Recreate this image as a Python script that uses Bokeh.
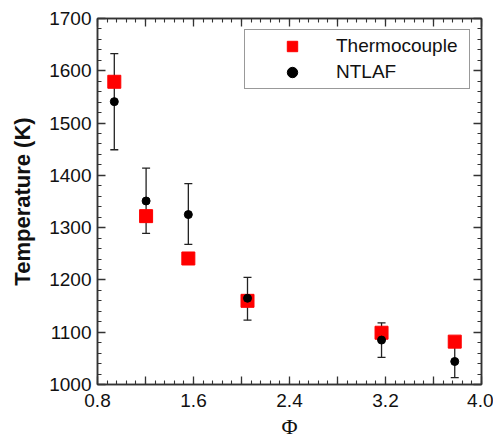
from bokeh.plotting import figure
from bokeh.models import (LinearAxis, FixedTicker, Whisker, TeeHead, ColumnDataSource,
                          Legend, LegendItem, Range1d)
from bokeh.embed import file_html
from bokeh.resources import INLINE

# ---- data ----
phi = [0.94, 1.205, 1.557, 2.05, 3.167, 3.777]
thermocouple = [1579, 1322, 1241, 1160, 1099, 1082]
ntlaf = [1541, 1351, 1325, 1165, 1085, 1044]
ntlaf_upper = [1633, 1414, 1384, 1205, 1118, 1074]
ntlaf_lower = [1449, 1289, 1268, 1123, 1052, 1013]

x_ticks = [0.8, 1.2, 1.6, 2.0, 2.4, 2.8, 3.2, 3.6, 4.0]
x_tick_labels = ["0.8", " ", "1.6", " ", "2.4", " ", "3.2", " ", "4.0"]
y_ticks = [1000, 1100, 1200, 1300, 1400, 1500, 1600, 1700]
x_title = "\u03a6"
y_title = "Temperature (K)"

x_minor = [round(0.8 + 0.08 * i, 2) for i in range(41)]
y_minor = [1000 + 20 * i for i in range(36)]

src = ColumnDataSource(dict(phi=phi, tc=thermocouple, nt=ntlaf, up=ntlaf_upper, lo=ntlaf_lower))

p = figure(width=493, height=441, x_range=Range1d(0.8, 4.0), y_range=Range1d(1000, 1700),
           output_backend="svg", toolbar_location=None,
           x_axis_label=x_title, y_axis_label=y_title)
p.min_border_left = 97
p.min_border_right = 12
p.min_border_top = 18
p.min_border_bottom = 55
p.xgrid.visible = False
p.ygrid.visible = False
p.outline_line_color = "#333333"
p.outline_line_width = 1.5

xt = FixedTicker(ticks=x_ticks, minor_ticks=x_minor)
yt = FixedTicker(ticks=y_ticks, minor_ticks=y_minor)

def style(ax):
    ax.axis_line_color = "#333333"
    ax.axis_line_width = 1.5
    ax.major_tick_line_color = "#333333"
    ax.minor_tick_line_color = "#333333"
    ax.major_tick_line_width = 1.3
    ax.minor_tick_line_width = 1.1
    ax.major_tick_in = 8
    ax.major_tick_out = 0
    ax.minor_tick_in = 4
    ax.minor_tick_out = 0
    ax.major_label_text_font = "Liberation Sans"
    ax.major_label_text_font_size = "19px"
    ax.major_label_text_color = "#111111"

xa = p.xaxis[0]
xa.ticker = xt
style(xa)
xa.major_label_overrides = dict(zip(x_ticks, x_tick_labels))
xa.major_label_standoff = 5
xa.axis_label_text_font = "Liberation Serif"
xa.axis_label_text_font_style = "normal"
xa.axis_label_text_font_size = "22px"
xa.axis_label_text_color = "#111111"
xa.axis_label_standoff = 0

ya = p.yaxis[0]
ya.ticker = yt
style(ya)
ya.major_label_standoff = 6
ya.axis_label_text_font = "Liberation Sans"
ya.axis_label_text_font_style = "bold"
ya.axis_label_text_font_size = "22px"
ya.axis_label_text_color = "#111111"
ya.axis_label_standoff = 11

top = LinearAxis(ticker=xt)
style(top)
top.major_label_text_font_size = "1px"
top.major_label_text_color = None
top.major_label_standoff = 0
p.add_layout(top, "above")

right = LinearAxis(ticker=yt)
style(right)
right.major_label_text_font_size = "1px"
right.major_label_text_color = None
right.major_label_standoff = 0
p.add_layout(right, "right")

whisk = Whisker(source=src, base="phi", upper="up", lower="lo", dimension="height",
                line_color="#222222", line_width=1.3,
                upper_head=TeeHead(size=8, line_color="#222222", line_width=1.3),
                lower_head=TeeHead(size=8, line_color="#222222", line_width=1.3))
p.add_layout(whisk)

r1 = p.scatter("phi", "tc", source=src, marker="square", size=13,
               fill_color="#ff0000", line_color="#ff0000")
r2 = p.scatter("phi", "nt", source=src, marker="circle", size=8,
               fill_color="#000000", line_color="#000000")

legend = Legend(items=[LegendItem(label="Thermocouple", renderers=[r1]),
                       LegendItem(label="NTLAF", renderers=[r2])],
                location="top_right", margin=11, padding=3, spacing=0,
                glyph_height=26, glyph_width=88, label_standoff=0, label_width=130,
                label_text_font="Liberation Sans", label_text_font_size="19px",
                label_text_color="#111111",
                border_line_color="#333333", border_line_width=1.5)
p.add_layout(legend)

open("out.html", "w").write(file_html(p, INLINE))
